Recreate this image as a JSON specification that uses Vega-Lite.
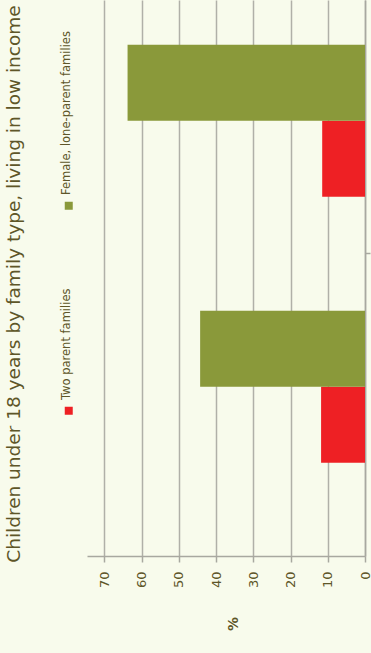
{
  "$schema": "https://vega.github.io/schema/vega-lite/v6.json",
  "width": 278,
  "height": 556,
  "autosize": {"type": "none"},
  "padding": {"left": 87, "top": 0, "right": 6, "bottom": 97},
  "background": "#f8fbec",
  "title": {
    "text": "Children under 18 years by family type, living in low income",
    "orient": "left",
    "anchor": "middle",
    "fontSize": 18.5,
    "font": "DejaVu Sans",
    "fontWeight": "normal",
    "color": "#5e5628",
    "offset": 40,
    "dx": -6
  },
  "data": {
    "values": [
      {"group": "Group 1", "family": "Two parent families", "pct": 11.8},
      {"group": "Group 1", "family": "Female, lone-parent families", "pct": 44.3},
      {"group": "Group 2", "family": "Two parent families", "pct": 11.5},
      {"group": "Group 2", "family": "Female, lone-parent families", "pct": 63.8}
    ]
  },
  "mark": {"type": "bar"},
  "encoding": {
    "y": {
      "field": "group",
      "type": "nominal",
      "sort": ["Group 2", "Group 1"],
      "scale": {"paddingInner": 0.4286, "paddingOuter": 0.2594, "align": 0.324},
      "axis": {
        "orient": "right",
        "labels": false,
        "title": null,
        "grid": false,
        "domainColor": "#a8a8a0",
        "domainWidth": 1.5,
        "tickColor": "#a8a8a0",
        "tickSize": 5,
        "tickWidth": 1.5,
        "bandPosition": -0.375
      }
    },
    "yOffset": {
      "field": "family",
      "type": "nominal",
      "sort": ["Female, lone-parent families", "Two parent families"],
      "scale": {"paddingInner": 0, "paddingOuter": 0}
    },
    "x": {
      "field": "pct",
      "type": "quantitative",
      "scale": {"domain": [0, 74.7], "reverse": true, "nice": false, "zero": true},
      "axis": {
        "values": [0, 10, 20, 30, 40, 50, 60, 70],
        "title": "%",
        "titleFontSize": 14,
        "titleFontWeight": "bold",
        "titleAngle": 270,
        "titleColor": "#5e5628",
        "titleFont": "DejaVu Sans",
        "titlePadding": 36,
        "labelAngle": 270,
        "labelFontSize": 13,
        "labelFont": "DejaVu Sans",
        "labelColor": "#5e5628",
        "labelPadding": 9,
        "domainColor": "#a8a8a0",
        "domainWidth": 1.5,
        "tickColor": "#a8a8a0",
        "tickSize": 6,
        "tickWidth": 1.5,
        "gridColor": "#b0b0a8",
        "gridWidth": 1.5
      }
    },
    "color": {
      "field": "family",
      "type": "nominal",
      "scale": {
        "domain": ["Female, lone-parent families", "Two parent families"],
        "range": ["#8a993a", "#ee2024"]
      },
      "legend": {
        "orient": "none",
        "legendX": -24,
        "legendY": 200,
        "title": null,
        "direction": "vertical",
        "symbolType": "square",
        "symbolSize": 64,
        "symbolStrokeWidth": 0,
        "labelFontSize": 11.5,
        "labelLimit": 400,
        "labelFont": "DejaVu Sans",
        "labelColor": "#5e5628",
        "rowPadding": 78,
        "encode": {
          "labels": {
            "update": {
              "angle": {"value": 270},
              "align": {"value": "left"},
              "baseline": {"value": "middle"},
              "x": {"value": 4},
              "y": {"value": -5}
            }
          }
        }
      }
    }
  },
  "config": {"view": {"stroke": null}}
}
